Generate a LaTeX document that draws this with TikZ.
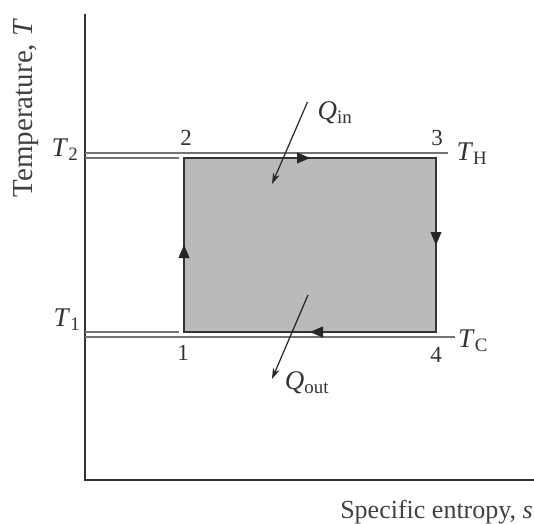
\documentclass[tikz,border=0pt]{standalone}
\usepackage{fontspec}
\setmainfont{Liberation Serif}
\usetikzlibrary{arrows.meta, decorations.markings, positioning}

\begin{document}
\begin{tikzpicture}[x=1pt, y=1pt,
    axisline/.style={line width=2.8pt, draw=black!80},
    isoline/.style={line width=1.8pt, draw=black!55},
    cycleedge/.style={line width=2.6pt, draw=black!80, line join=miter},
    midtip/.style={postaction={decorate}, decoration={markings,
        mark=at position 0.5 with {\arrow{Triangle[length=13pt, width=11pt]}}}},
    heatarrow/.style={line width=1.2pt, draw=black!85, -{Stealth[length=11pt, width=7pt]}},
    lbl/.style={text=black!80, font=\fontsize{27}{27}\selectfont, inner sep=0pt},
    numlbl/.style={text=black!80, font=\fontsize{23}{23}\selectfont, inner sep=0pt},
    axislbl/.style={text=black!75, inner sep=0pt}]

    \useasboundingbox (0,0) rectangle (534,523);
    \clip (0,0) rectangle (534,523);

    % Axes
    \coordinate (origin) at (85,43);
    \coordinate (ytop) at (85,509);
    \coordinate (xend) at (534,43);
    \draw[axisline] (ytop) -- (origin) -- (xend);
    \node[axislbl, font=\fontsize{29}{29}\selectfont, rotate=90] (ylabel) at (26,415) {Temperature, \textit{T}};
    \node[axislbl, font=\fontsize{26}{26}\selectfont, anchor=base east] (xlabel) at (533,4.5) {Specific entropy, \textit{s}};

    % State points
    \coordinate (p1) at (184,191);
    \coordinate (p2) at (184,365);
    \coordinate (p3) at (436,365);
    \coordinate (p4) at (436,191);

    % Reservoir and state temperature lines
    \coordinate (hotL) at (85,370);
    \coordinate (hotR) at (448,370);
    \coordinate (coldL) at (85,186);
    \coordinate (coldR) at (455,186);
    \coordinate (t2L) at (85,365);
    \coordinate (t2R) at (179,365);
    \coordinate (t1L) at (85,191);
    \coordinate (t1R) at (179,191);
    \draw[isoline] (hotL) -- (hotR);
    \draw[isoline] (coldL) -- (coldR);
    \draw[isoline] (t2L) -- (t2R);
    \draw[isoline] (t1L) -- (t1R);

    % Cycle
    \fill[black!27] (p1) rectangle (p3);
    \draw[cycleedge] (p1) -- (p2) -- (p3) -- (p4) -- cycle;
    \path[midtip, color=black!85] (p1) -- (p2);
    \path[midtip, color=black!85] (p2) -- (p3);
    \path[midtip, color=black!85] (p3) -- (p4);
    \path[midtip, color=black!85] (p4) -- (p1);

    % State labels
    \node[numlbl] (n1) at (183,170) {1};
    \node[numlbl] (n2) at (186,385) {2};
    \node[numlbl] (n3) at (437,385) {3};
    \node[numlbl] (n4) at (436,168) {4};

    % Temperature labels
    \node[lbl] (T2) at (65,373) {\textit{T}\textsubscript{2}};
    \node[lbl] (T1) at (67,203) {\textit{T}\textsubscript{1}};
    \node[lbl] (TH) at (472,369) {\textit{T}\textsubscript{H}};
    \node[lbl] (TC) at (473,182) {\textit{T}\textsubscript{C}};

    % Heat transfer
    \node[lbl] (qin) at (335,410) {\textit{Q}\textsubscript{in}};
    \node[lbl] (qout) at (307,140) {\textit{Q}\textsubscript{out}};
    \coordinate (qinA) at (307.5,421);
    \coordinate (qinB) at (272,339);
    \coordinate (qoutA) at (308,228);
    \coordinate (qoutB) at (272,144);
    \draw[heatarrow] (qinA) -- (qinB);
    \draw[heatarrow] (qoutA) -- (qoutB);
\end{tikzpicture}
\end{document}
